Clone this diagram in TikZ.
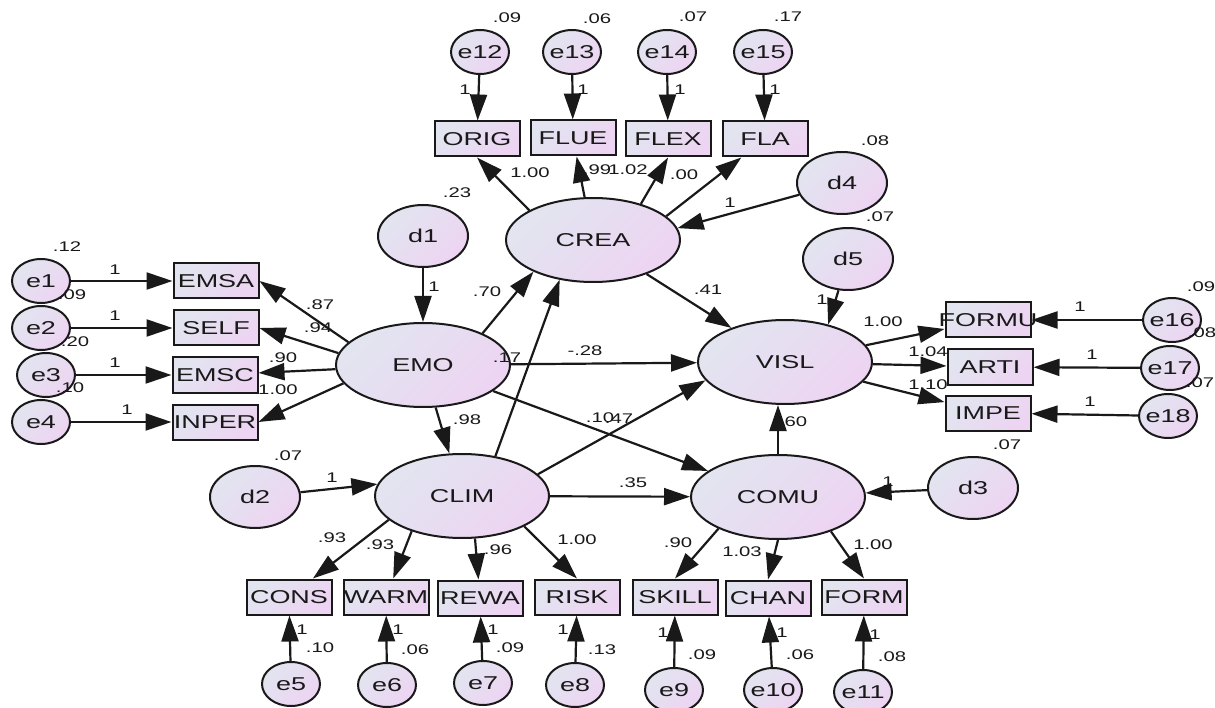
\documentclass[tikz,border=0pt]{standalone}
\usepackage{fontspec}
\newfontfamily\semfont{Liberation Sans}[FakeStretch=1.45]
\usetikzlibrary{shapes.geometric,arrows.meta}
\definecolor{semleft}{RGB}{226,229,240}
\definecolor{semright}{RGB}{237,212,242}

\begin{document}
\begin{tikzpicture}[
        x=1pt, y=-1pt, % one unit is one pixel, y runs downwards
        % Define a common look for every shape of the path diagram
        sem_shape/.style={draw=black!90, line width=2pt, inner sep=0pt,
            top color=semleft, bottom color=semright, shading angle=45,
            text=black!90, font=\semfont\fontsize{18.6}{20}\selectfont},
        % Define a style for the latent variables
        latent_var/.style={sem_shape, ellipse, minimum width=174pt, minimum height=84pt},
        % Define a style for the disturbances
        dist_var/.style={sem_shape, ellipse, minimum width=90pt, minimum height=62pt},
        % Define a style for the error terms
        err_var/.style={sem_shape, ellipse, minimum width=58pt, minimum height=44pt},
        % Define a style for the observed variables
        obs_var/.style={sem_shape, rectangle, minimum width=85pt, minimum height=35pt},
        % Define a style for the estimates
        est/.style={inner sep=0pt, text=black!90, font=\semfont\fontsize{14}{16}\selectfont},
        % Define a style for the paths
        path_arrow/.style={line width=2.2pt, black!90, -{Triangle[length=26pt,width=17pt]}}
    ]

    % Fix the size of the picture
    \fill[white] (0,0) rectangle (1215,708);
    \useasboundingbox (0,0) rectangle (1215,708);

    % Draw the latent variables
    \foreach \n/\x/\y in {EMO/423/365, CREA/593/240, VISL/785/362, CLIM/462/496, COMU/778/497}
        \node[latent_var] (\n) at (\x,\y) {\makebox[0pt]{\n}};

    % Draw the disturbances
    \foreach \n/\x/\y in {d1/423/236, d2/255/497, d3/973/488, d4/842/183, d5/848/259}
        \node[dist_var] (\n) at (\x,\y) {\makebox[0pt]{\n}};

    % Draw the error terms
    \foreach \n/\x/\y in {e1/41/281, e2/41/328, e3/46/375, e4/41/422,
                          e12/480/52, e13/572/52, e14/667/52, e15/763/52,
                          e16/1172/320, e17/1170/368, e18/1168/416,
                          e5/291/684, e6/387/685, e7/483/683, e8/575/685,
                          e9/674/690, e10/773/690, e11/863/692}
        \node[err_var] (\n) at (\x,\y) {\makebox[0pt]{\n}};

    % Draw the observed variables
    \foreach \n/\x/\y in {EMSA/216/281, SELF/216/328, EMSC/215/375, INPER/215/422,
                          ORIG/477/139, FLUE/573/138, FLEX/668/139, FLA/765/139,
                          FORMU/988/320, ARTI/990/367, IMPE/988/413,
                          CONS/289/597, WARM/386/597, REWA/480/598, RISK/577/597,
                          SKILL/675/597, CHAN/768/598, FORM/864/597}
        \node[obs_var] (\n) at (\x,\y) {\makebox[0pt]{\n}};

    % Draw the paths between the variables
    \foreach \a/\b in {e1/EMSA, e2/SELF, e3/EMSC, e4/INPER, EMO/EMSC,
                       e12/ORIG, e13/FLUE, e14/FLEX, e15/FLA, CREA/FLUE,
                       e16/FORMU, e17/ARTI, e18/IMPE,
                       VISL/FORMU, VISL/ARTI, VISL/IMPE,
                       e5/CONS, e6/WARM, e7/REWA, e8/RISK,
                       e9/SKILL, e10/CHAN, e11/FORM,
                       d1/EMO, d3/COMU,
                       EMO/VISL, EMO/CLIM, EMO/COMU,
                       CLIM/COMU, CREA/VISL}
        \draw[path_arrow] (\a) -- (\b);
    % Paths that leave or reach a shape away from the line between the centres
    \foreach \a/\b in {EMO.163/EMSA.east, EMO.172/SELF.east, EMO.193/INPER.east,
                       CREA.155/ORIG.south, CREA.37/FLEX.south, CREA.18/FLA,
                       CLIM.198/CONS, CLIM.215/WARM, CLIM.287/REWA, CLIM.334/RISK.north,
                       COMU.208/SKILL.north, COMU.south/CHAN.north, COMU.327/FORM.north,
                       d2/CLIM.172, d4/CREA.8, d5/VISL.41,
                       EMO.28/CREA.208, CLIM.50/CREA.230, CLIM.16/VISL.193}
        \draw[path_arrow] (\a) -- (\b);
    \draw[path_arrow] (COMU.north) -- (COMU.north |- VISL.south);

    % Write the estimates
    \foreach \x/\y/\t [count=\k] in {
            67/247/.12, 72/295/.09, 75/342/.20, 70/388/.10,
            507/18/.09, 597/19/.06, 693/17/.07, 788/17/.17,
            457/193/.23, 875/141/.08, 880/217/.07,
            1201/287/.09, 1202/333/.08, 1200/383/.07, 1007/445/.07, 288/456/.07,
            320/648/.10, 415/650/.06, 510/648/.09, 602/650/.13,
            702/655/.09, 800/655/.06, 892/657/.08,
            115/270/1, 115/316/1, 115/363/1, 127/410/1,
            465/90/1, 583/90/1, 680/90/1, 775/90/1,
            730/203/1, 434/287/1, 822/300/1,
            1080/307/1, 1092/355/1, 1090/402/1,
            888/482/1, 332/478/1,
            302/630/1, 398/630/1, 493/630/1, 563/630/1,
            663/633/1, 782/633/1, 875/635/1,
            320/305/.87, 318/328/.94, 283/358/.90, 278/390/1.00,
            530/173/1.00, 597/170/.99, 628/170/1.02, 684/175/.00,
            487/292/.70, 507/358/.17, 585/351/-.28, 467/420/.98, 600/418/.10, 619/419/.47,
            708/290/.41, 793/422/.60, 633/483/.35,
            883/322/1.00, 928/352/1.04, 928/385/1.10,
            332/538/.93, 380/545/.93, 498/550/.96, 577/540/1.00,
            678/543/.90, 742/552/1.03, 873/545/1.00}
        \node[est] (est\k) at (\x,\y) {\t};

\end{tikzpicture}
\end{document}
